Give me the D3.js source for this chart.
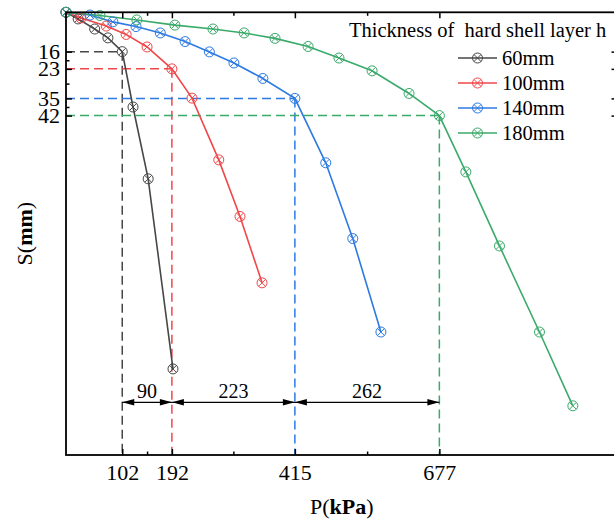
<!DOCTYPE html>
<html>
<head>
<meta charset="utf-8">
<script src="https://cdn.jsdelivr.net/npm/d3@7"></script>
<style>
  html, body { margin: 0; padding: 0; background: #fff; }
  svg { display: block; font-family: "Liberation Serif", "Times New Roman", serif; }
</style>
</head>
<body>
<svg id="chart" width="614" height="520"></svg>
<script>
// Load P (kPa) and settlement S (mm) for each hard-shell thickness
const load60   = [0, 22, 52, 76, 102, 121.5, 149, 194];
const settle60 = [0, 2.7, 6.8, 10.4, 16, 38.5, 67.7, 145];

const load100   = [0, 27, 73, 109, 147, 192, 228.5, 277, 315.5, 355.5];
const settle100 = [0, 2.3, 5.6, 9, 14.1, 23, 34.9, 60, 83, 110];

const load140   = [0, 43.5, 85, 127, 171, 216, 260, 304.5, 357, 415, 471, 520, 571];
const settle140 = [0, 1.1, 3.9, 5.8, 8.4, 11.9, 16.1, 20.6, 26.9, 35, 61.2, 92, 130];

const load180   = [0, 61.5, 128.5, 197.5, 266.5, 323, 379, 439, 495, 555, 622, 677, 725, 786, 858.5, 919];
const settle180 = [0, 1.3, 3.1, 5.2, 6.8, 8.4, 10.6, 13.9, 18.6, 23.8, 33, 42, 64.9, 95, 130, 160];

const seriesNames = ["60mm", "100mm", "140mm", "180mm"];
const seriesColors = ["#474747", "#f0474a", "#2d7ae2", "#3aaa6a"];

// Critical (turning-point) loads and settlements marked on the axes
const criticalLoad = [102, 192, 415, 677];
const criticalSettle = [16, 23, 35, 42];

const legendTitle = "Thickness of  hard shell layer h";

const series = [
  { P: load60, S: settle60 },
  { P: load100, S: settle100 },
  { P: load140, S: settle140 },
  { P: load180, S: settle180 }
].map((d, i) => ({
  name: seriesNames[i],
  color: seriesColors[i],
  points: d.P.map((p, j) => ({ p, s: d.S[j] }))
}));

const svg = d3.select("#chart");
const plotLeft = 66, plotRight = 617.5, plotTop = 12.3, plotBottom = 455;

const x = d3.scaleLinear().domain([0, 1000]).range([plotLeft, plotRight]);
const y = d3.scaleLinear().domain([0, 180]).range([plotTop, plotBottom]);

const midpoints = arr => arr.slice(1).map((v, i) => (v + arr[i]) / 2);
const xMinor = midpoints(criticalLoad);
const yMinor = midpoints(criticalSettle);

// Dashed guide lines from each critical point to the axes
const guides = svg.append("g").attr("fill", "none").attr("stroke-width", 1.5).attr("stroke-dasharray", "9,5");
criticalLoad.forEach((p, i) => {
  const s = criticalSettle[i];
  guides.append("line")
    .attr("x1", x(0)).attr("x2", x(p))
    .attr("y1", y(s)).attr("y2", y(s))
    .attr("stroke", seriesColors[i]);
  guides.append("line")
    .attr("x1", x(p)).attr("x2", x(p))
    .attr("y1", y(s)).attr("y2", y(180))
    .attr("stroke", seriesColors[i]);
});

// Series lines
const line = d3.line().x(d => x(d.p)).y(d => y(d.s));
svg.append("g").selectAll("path")
  .data(series)
  .join("path")
  .attr("d", d => line(d.points))
  .attr("fill", "none")
  .attr("stroke", d => d.color)
  .attr("stroke-width", 1.6);

// Circle-with-cross markers
const r = 5, k = r / Math.SQRT2;
const markerPath = `M${-r},0A${r},${r} 0 1,0 ${r},0A${r},${r} 0 1,0 ${-r},0Z` +
  `M${-k},${-k}L${k},${k}M${-k},${k}L${k},${-k}`;
series.forEach(sr => {
  svg.append("g").selectAll("path")
    .data(sr.points)
    .join("path")
    .attr("transform", d => `translate(${x(d.p)},${y(d.s)})`)
    .attr("d", markerPath)
    .attr("fill", "none")
    .attr("stroke", sr.color)
    .attr("stroke-width", 1);
});

// Interval dimension arrows between critical loads
const arrowY = 402.3;
const dim = svg.append("g");
const head = (tip, dir) => {
  const L = 12, h = 3.2;
  return `M${tip},${arrowY}L${tip + dir * L},${arrowY - h}L${tip + dir * L},${arrowY + h}Z`;
};
for (let i = 0; i < criticalLoad.length - 1; i++) {
  const a = criticalLoad[i], b = criticalLoad[i + 1];
  dim.append("line")
    .attr("x1", x(a)).attr("x2", x(b))
    .attr("y1", arrowY).attr("y2", arrowY)
    .attr("stroke", "#000").attr("stroke-width", 1.2);
  dim.append("path").attr("d", head(x(a), 1)).attr("fill", "#000");
  dim.append("path").attr("d", head(x(b), -1)).attr("fill", "#000");
  dim.append("text")
    .attr("x", (x(a) + x(b)) / 2).attr("y", 398.3)
    .attr("text-anchor", "middle")
    .attr("font-size", 20)
    .text(b - a);
}

// Axes with inward ticks
function styleAxis(g) {
  g.select(".domain").remove();
  g.selectAll(".tick line").attr("stroke", "#000").attr("stroke-width", 1.5);
  g.selectAll("text").attr("fill", "#000").attr("font-family", "Liberation Serif, Times New Roman, serif");
}
svg.append("g").attr("transform", `translate(0,${plotBottom})`)
  .call(d3.axisBottom(x).tickValues(criticalLoad).tickSize(-6).tickPadding(9).tickFormat(d3.format("d")))
  .call(g => g.attr("font-size", 22))
  .call(styleAxis);
svg.append("g").attr("transform", `translate(0,${plotBottom})`)
  .call(d3.axisBottom(x).tickValues(xMinor).tickSize(-3.5).tickFormat(""))
  .call(styleAxis);
svg.append("g").attr("transform", `translate(0,${plotTop})`)
  .call(d3.axisTop(x).tickValues(criticalLoad).tickSize(-6).tickFormat(""))
  .call(styleAxis);
svg.append("g").attr("transform", `translate(0,${plotTop})`)
  .call(d3.axisTop(x).tickValues(xMinor).tickSize(-3.5).tickFormat(""))
  .call(styleAxis);
svg.append("g").attr("transform", `translate(${plotLeft},0)`)
  .call(d3.axisLeft(y).tickValues(criticalSettle).tickSize(-6).tickPadding(6).tickFormat(d3.format("d")))
  .call(g => g.attr("font-size", 22))
  .call(styleAxis);
svg.append("g").attr("transform", `translate(${plotLeft},0)`)
  .call(d3.axisLeft(y).tickValues(yMinor).tickSize(-3.5).tickFormat(""))
  .call(styleAxis);
svg.append("g").attr("transform", `translate(${plotRight},0)`)
  .call(d3.axisRight(y).tickValues(criticalSettle).tickSize(-6).tickFormat(""))
  .call(styleAxis);
svg.append("g").attr("transform", `translate(${plotRight},0)`)
  .call(d3.axisRight(y).tickValues(yMinor).tickSize(-3.5).tickFormat(""))
  .call(styleAxis);

// Plot frame
svg.append("rect")
  .attr("x", plotLeft).attr("y", plotTop)
  .attr("width", plotRight - plotLeft).attr("height", plotBottom - plotTop)
  .attr("fill", "none").attr("stroke", "#000").attr("stroke-width", 1.8);

// Axis titles
const xt = svg.append("text")
  .attr("x", (plotLeft + plotRight) / 2).attr("y", 514)
  .attr("text-anchor", "middle").attr("font-size", 22);
xt.append("tspan").text("P(");
xt.append("tspan").attr("font-weight", "bold").text("kPa");
xt.append("tspan").text(")");

const yt = svg.append("text")
  .attr("transform", `translate(32,${(plotTop + plotBottom) / 2}) rotate(-90)`)
  .attr("text-anchor", "middle").attr("font-size", 22);
yt.append("tspan").text("S(");
yt.append("tspan").attr("font-weight", "bold").text("mm");
yt.append("tspan").text(")");

// Legend
const legend = svg.append("g");
legend.append("text")
  .attr("x", 349).attr("y", 36.7)
  .attr("font-size", 20.5)
  .style("white-space", "pre")
  .attr("xml:space", "preserve")
  .text(legendTitle);
series.forEach((sr, i) => {
  const ry = 58 + i * 25;
  const row = legend.append("g");
  row.append("line")
    .attr("x1", 458).attr("x2", 497).attr("y1", ry).attr("y2", ry)
    .attr("stroke", sr.color).attr("stroke-width", 1.6);
  row.append("path")
    .attr("transform", `translate(477.5,${ry})`)
    .attr("d", markerPath)
    .attr("fill", "none").attr("stroke", sr.color).attr("stroke-width", 1);
  row.append("text")
    .attr("x", 502).attr("y", ry + 6.8)
    .attr("font-size", 20.5)
    .text(sr.name);
});
</script>
</body>
</html>
